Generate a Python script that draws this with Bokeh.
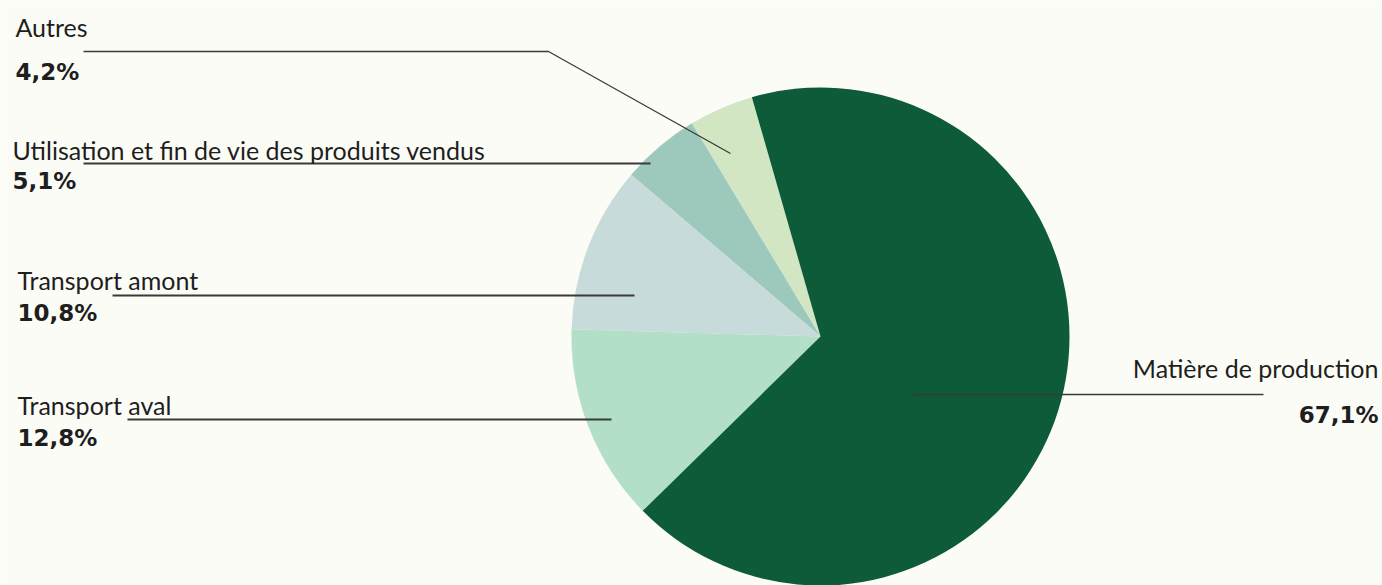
import numpy as np
from bokeh.plotting import figure
from bokeh.models import ColumnDataSource, Range1d
from bokeh.core.properties import value
from bokeh.embed import file_html
from bokeh.resources import INLINE

# Data (anticlockwise order starting from the top-left boundary)
categories = ["Autres", "Utilisation et fin de vie des produits vendus",
              "Transport amont", "Transport aval", "Matière de production"]
shares = [4.2, 5.1, 10.8, 12.8, 67.1]
pct_labels = ["4,2%", "5,1%", "10,8%", "12,8%", "67,1%"]
colors = ["#d2e6c4", "#9dc9bc", "#c7dbdb", "#b3dec8", "#0d5b39"]

BG = "#fcfcf6"
W, H = 1382, 585
# coordinates: x = screen x, y = 585 - screen y
p = figure(width=W, height=H, output_backend="svg", toolbar_location=None,
           x_range=Range1d(0, W), y_range=Range1d(0, H),
           min_border=0, outline_line_color=None,
           background_fill_color=BG, border_fill_color=BG)
p.axis.visible = False
p.grid.visible = False

def Y(sy):
    return H - sy

cx, cy, r = 820, Y(336), 249
start0 = np.deg2rad(106.0)
fr = np.array(shares) / sum(shares)
ends = start0 + np.cumsum(fr) * 2 * np.pi
starts = ends - fr * 2 * np.pi
src = ColumnDataSource(dict(start=starts, end=ends, color=colors))
p.wedge(x=cx, y=cy, radius=r, start_angle="start", end_angle="end",
        fill_color="color", line_color=None, source=src)

LC = "#3a3a3a"
# leader lines
p.line([83, 548, 730], [Y(51), Y(51), Y(153)], line_color=LC, line_width=1.3)
p.line([83, 650], [Y(163), Y(163)], line_color=LC, line_width=2)
p.line([112, 634], [Y(295), Y(295)], line_color=LC, line_width=2)
p.line([127, 611], [Y(419), Y(419)], line_color=LC, line_width=2)
p.line([912, 1263], [Y(394), Y(394)], line_color=LC, line_width=1.5)

FONT = value("Lato")
BFONT = value("DejaVu Sans")
TC = "#1e1e1e"
DY = 9
name_pos = [(15, 35, "left"), (12, 158, "left"), (17, 288, "left"),
            (17, 413, "left"), (1378, 376, "right")]
pct_pos = [(15, 80, "left"), (12, 189, "left"), (17, 321, "left"),
           (17, 446, "left"), (1378, 423, "right")]
for i, cat in enumerate(categories):
    x, y, al = name_pos[i]
    p.text(x=[x], y=[Y(y - DY)], text=[cat], text_font=FONT,
           text_font_size="25px",
           text_color=TC, text_align=al, text_baseline="alphabetic")
    x, y, al = pct_pos[i]
    p.text(x=[x], y=[Y(y - DY)], text=[pct_labels[i]], text_font=BFONT,
           text_font_size="23px", text_font_style="bold",
           text_color=TC, text_align=al, text_baseline="alphabetic")

open("out.html", "w").write(file_html(p, INLINE))
